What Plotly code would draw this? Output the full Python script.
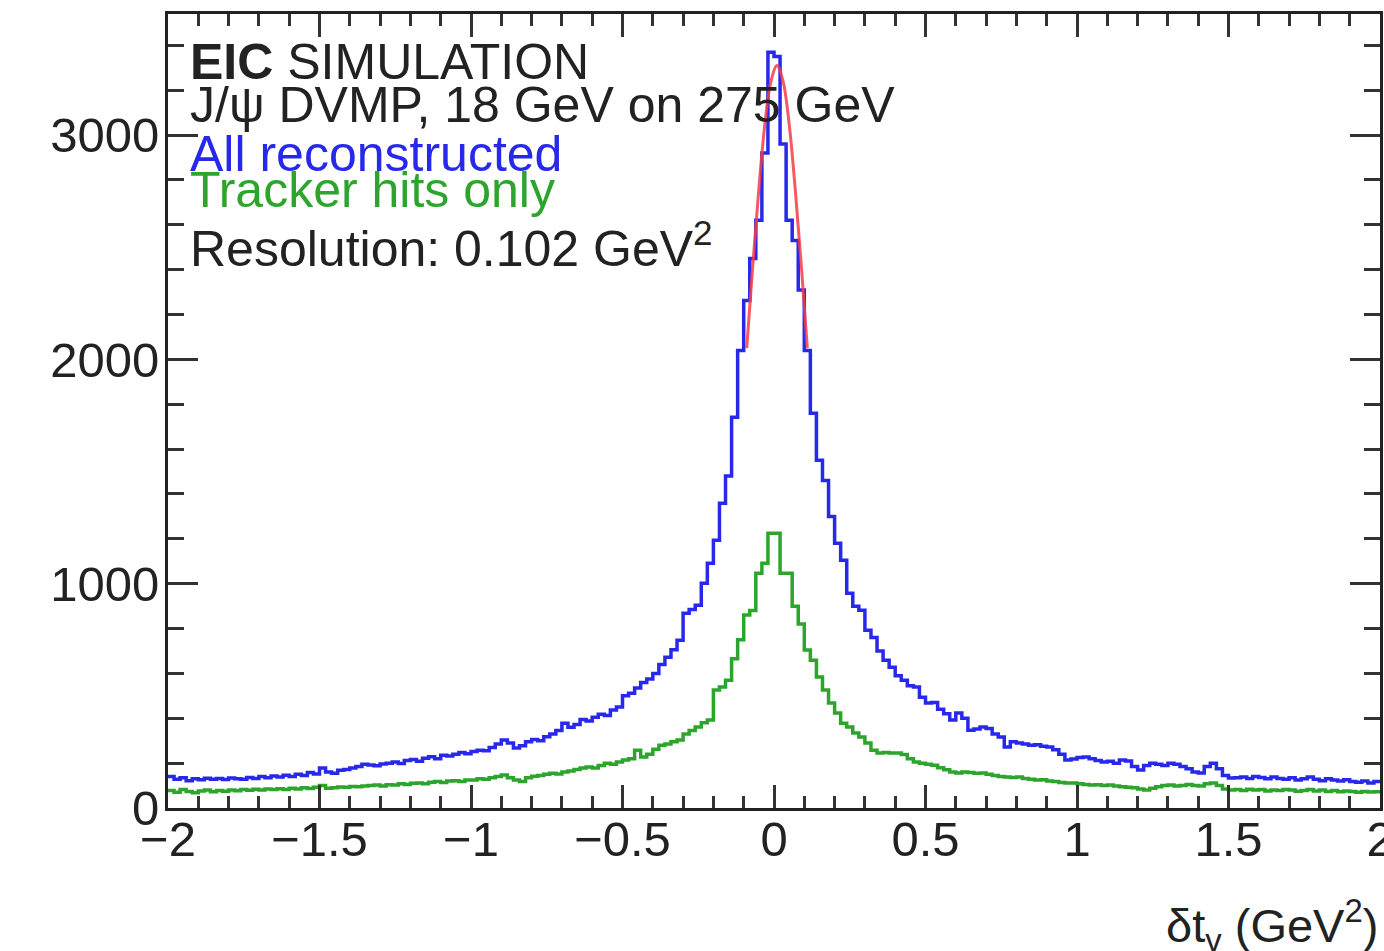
import numpy as np
import plotly.graph_objects as go

# ---- data (histograms: 200 bins of width 0.02 from -2 to 2) ----
bin_low = -2.0
bin_high = 2.0
n_bins = 200

all_reconstructed = [
    140,128,135,122,130,126,133,128,131,127,
    134,130,128,136,132,140,135,143,138,146,
    140,150,145,158,152,178,160,155,168,172,
    178,185,195,192,188,196,200,205,198,212,
    216,208,222,228,220,235,232,240,248,242,
    252,258,255,270,285,303,290,268,278,295,
    305,300,318,330,345,378,360,372,395,388,
    405,418,412,437,450,500,512,535,560,575,
    600,640,672,705,748,868,885,904,1002,1091,
    1194,1359,1480,1742,2040,2263,2450,2620,2920,3370,
    3350,2960,2620,2530,2310,2040,1760,1550,1460,1300,
    1180,1105,958,900,882,793,760,700,659,628,
    590,570,545,539,494,468,470,440,420,392,
    423,400,347,352,361,355,330,316,272,295,
    290,285,280,282,275,272,260,240,214,218,
    225,227,220,212,205,208,200,214,210,185,
    169,190,200,195,190,200,195,185,175,160,
    156,185,200,175,145,134,135,138,132,140,
    136,130,138,132,128,135,125,130,138,128,
    122,130,125,120,126,118,115,120,112,118,
]

tracker_hits_only = [
    78,70,82,74,68,76,80,72,78,75,
    80,77,82,79,84,80,85,82,86,83,
    88,85,90,87,92,100,88,90,94,92,
    96,95,98,100,102,98,104,103,108,105,
    110,112,108,115,118,114,120,122,118,125,
    125,130,128,135,140,147,135,125,118,135,
    142,145,150,155,152,160,165,172,178,183,
    178,190,200,195,205,214,220,258,227,240,
    262,280,285,295,303,330,345,361,380,392,
    526,540,570,665,750,860,880,1047,1091,1225,
    1225,1047,1047,900,820,704,659,584,526,468,
    423,378,361,334,316,290,258,245,248,245,
    245,238,220,205,200,195,191,180,170,160,
    156,160,158,155,156,150,145,140,138,136,
    138,132,128,125,126,120,118,114,111,112,
    108,105,102,104,100,102,98,95,92,90,
    85,80,88,95,100,102,98,100,105,100,
    98,108,111,100,85,80,82,78,84,80,
    82,76,80,78,83,80,75,78,82,76,
    80,74,78,72,76,74,70,74,71,72,
]

# Gaussian fit curve
fit_x = [-0.09, -0.07, -0.05, -0.03, -0.01, 0.01, 0.03, 0.05, 0.07, 0.09, 0.11]
fit_y = [2050, 2420, 2760, 3050, 3240, 3310, 3240, 3050, 2760, 2420, 2050]

x_tick_vals = [-2, -1.5, -1, -0.5, 0, 0.5, 1, 1.5, 2]
x_tick_text = ["\u22122", "\u22121.5", "\u22121", "\u22120.5", "0", "0.5", "1", "1.5", "2"]
y_tick_vals = [0, 1000, 2000, 3000]
y_tick_text = ["0", "1000", "2000", "3000"]

# ---- figure ----
edges = np.linspace(bin_low, bin_high, n_bins + 1)

def step_xy(vals):
    xs = list(edges)
    ys = list(vals) + [vals[-1]]
    return xs, ys

BLUE = "rgb(40,40,235)"
GREEN = "rgb(45,165,45)"
RED = "rgba(245,60,70,0.85)"
FONT = "Liberation Sans, Arial, Helvetica, sans-serif"
TXT = "#222222"

fig = go.Figure()
bx, by = step_xy(all_reconstructed)
gx, gy = step_xy(tracker_hits_only)
fig.add_trace(go.Scatter(x=gx, y=gy, mode="lines", line=dict(color=GREEN, width=3.5, shape="hv"),
                         name="Tracker hits only", showlegend=False))
fig.add_trace(go.Scatter(x=bx, y=by, mode="lines", line=dict(color=BLUE, width=3.5, shape="hv"),
                         name="All reconstructed", showlegend=False))
fig.add_trace(go.Scatter(x=fit_x, y=fit_y, mode="lines", line=dict(color=RED, width=3, shape="spline"),
                         name="Fit", showlegend=False))

axis_common = dict(
    showgrid=False, zeroline=False, showline=True, linecolor="#222", linewidth=3,
    mirror="allticks", ticks="inside", tickcolor="#333", tickwidth=2.5,
    tickfont=dict(family=FONT, size=49, color=TXT),
    ticklabeloverflow="allow", automargin=False,
)

fig.update_xaxes(
    range=[bin_low, bin_high], tickvals=x_tick_vals, ticktext=x_tick_text, ticklen=23,
    ticklabelstandoff=-14,
    minor=dict(dtick=0.1, ticklen=12, tickwidth=2.5, tickcolor="#333", ticks="inside", showgrid=False),
    **axis_common,
)
fig.update_yaxes(
    range=[0, 3540], tickvals=y_tick_vals, ticktext=y_tick_text, ticklen=30,
    ticklabelstandoff=-4,
    minor=dict(dtick=200, ticklen=16, tickwidth=2.5, tickcolor="#333", ticks="inside", showgrid=False),
    **axis_common,
)

def txt(text, y, color=TXT):
    fig.add_annotation(text=text, xref="paper", yref="paper", x=0.0165, y=y,
                       xanchor="left", yanchor="middle", showarrow=False,
                       font=dict(family=FONT, size=50, color=color))

txt("<b>EIC</b> SIMULATION", 0.940)
txt("J/\u03c8 DVMP, 18 GeV on 275 GeV", 0.886)
txt("All reconstructed", 0.824, BLUE)
txt("Tracker hits only", 0.778, GREEN)
txt("Resolution: 0.102 GeV<sup>2</sup>", 0.709)

fig.add_annotation(text="\u03b4t<sub>\u03b3</sub> (GeV<sup>2</sup>)", xref="paper", yref="paper",
                   x=1.0, y=-0.148, xanchor="right", yanchor="middle", showarrow=False,
                   font=dict(family=FONT, size=47, color=TXT))

fig.update_layout(
    width=1384, height=951,
    margin=dict(l=168, r=4, t=14, b=143, autoexpand=False),
    paper_bgcolor="white", plot_bgcolor="white",
    showlegend=False,
)

fig.write_html("out.html")
